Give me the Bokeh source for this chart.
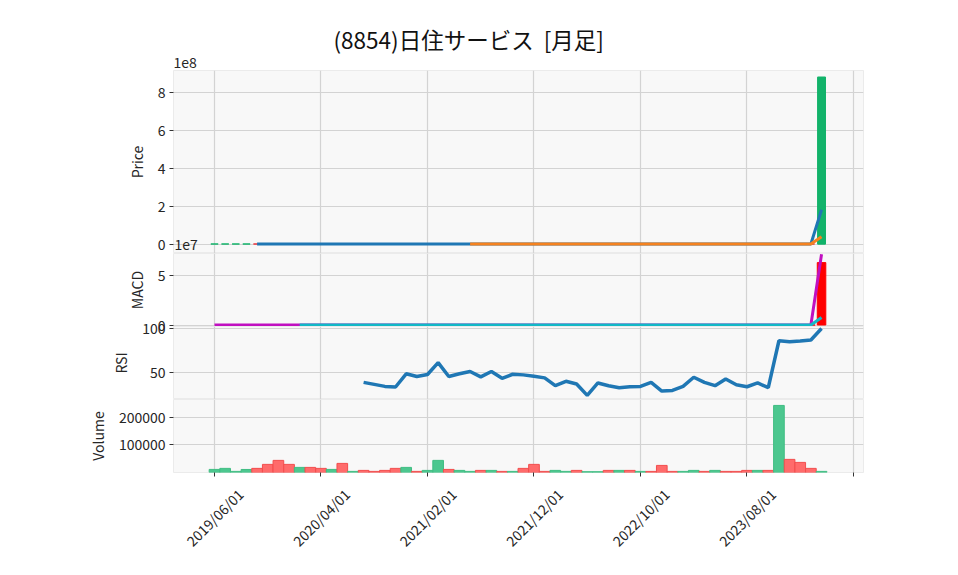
import math
from bokeh.plotting import figure
from bokeh.layouts import column
from bokeh.models import Range1d, FixedTicker, Label, ColumnDataSource, Title, LinearAxis
from bokeh.embed import file_html
from bokeh.resources import INLINE

# ---------------- data ----------------
title_text = "(8854)日住サービス \u00a0[月足]"
tick_positions = [0, 10, 20, 30, 40, 50, 60]
tick_labels = ["2019/06/01", "2020/04/01", "2021/02/01", "2021/12/01",
               "2022/10/01", "2023/08/01", ""]

opens = [600, 612, 625, 630, 641, 628, 596, 552, 530, 547,
         533, 521, 529, 494, 497, 490, 486, 480, 471, 499,
         494, 498, 541, 521, 527, 533, 519, 531, 515, 524,
         519, 510, 490, 494, 501, 465, 468, 482, 470, 473,
         472, 474, 473, 455, 454, 462, 480, 470, 476, 474,
         470, 466, 472, 462, 640, 636, 632, 630]
closes = [612, 625, 630, 641, 628, 596, 552, 530, 547, 533,
          521, 529, 494, 497, 490, 486, 480, 471, 499, 494,
          498, 541, 521, 527, 533, 519, 531, 515, 524, 519,
          510, 506, 494, 501, 493, 468, 482, 476, 473, 472,
          474, 473, 455, 454, 462, 480, 470, 476, 474, 470,
          466, 472, 462, 640, 636, 632, 630, 881000000]

ma5 = [None, None, None, None, 627, 623, 609, 585, 571, 552,
       537, 532, 525, 514, 506, 495, 491, 485, 485, 488,
       492, 501, 509, 516, 529, 528, 527, 525, 524, 522,
       520, 515, 509, 504, 501, 492, 488, 484, 479, 474,
       475, 473, 469, 465, 464, 465, 464, 468, 472, 474,
       471, 472, 469, 502, 537, 570, 600, 181000000]
ma25 = [None] * 24 + [535, 531, 528, 524, 519, 516, 514, 513, 511, 510,
                      509, 507, 506, 505, 504, 503, 502, 500, 498, 496,
                      494, 493, 491, 490, 488, 485, 484, 482, 480, 485,
                      490, 495, 500, 38000000]

macd = [0, 1, 2, 3, 1, -2, -7, -12, -14, -16,
        -18, -18, -21, -22, -23, -24, -25, -23, -22, -17,
        -14, -8, -5, -2, 0, 1, 2, 1, 1, 0,
        -1, -2, -3, -4, -4, -6, -7, -7, -8, -9,
        -9, -9, -10, -11, -11, -10, -10, -9, -8, -8,
        -8, -7, -7, 6, 16, 23, 28, 71500000]
signal = [None] * 8 + [-5, -7,
          -9, -11, -13, -15, -16, -18, -19, -20, -20, -20,
          -19, -17, -14, -12, -10, -8, -6, -4, -3, -2,
          -2, -2, -2, -3, -3, -4, -4, -5, -6, -6,
          -7, -7, -8, -9, -9, -9, -9, -9, -9, -9,
          -8, -8, -8, -5, -1, 4, 8, 7500000]
hist = [None] * 8 + [-9, -9,
        -9, -7, -8, -7, -7, -6, -6, -3, -2, 3,
        5, 9, 9, 10, 10, 9, 8, 5, 4, 2,
        1, 0, -1, -1, -1, -2, -3, -2, -2, -3,
        -2, -2, -2, -2, -2, -1, -2, 0, 1, 1,
        0, 1, 1, 11, 17, 19, 20, 63000000]

rsi = [None] * 14 + [38.8, 36.5, 34.2, 33.5, 48.5, 45.4,
       47.7, 61.2, 45.4, 48.5, 51.2, 45.0, 51.2, 43.4, 48.0, 47.3,
       45.7, 43.9, 35.0, 40.0, 37.0, 24.0, 38.1, 35.0, 32.7, 33.8,
       34.2, 38.8, 28.9, 29.6, 34.2, 44.6, 38.8, 35.0, 42.7, 36.1,
       33.8, 38.1, 32.7, 86.1, 85.0, 85.8, 87.0, 100.0]

volume = [11200, 14900, 4000, 11000, 15000, 29400, 43900, 29400, 18500, 18500,
          14900, 11200, 33000, 4000, 7600, 4000, 7600, 14900, 18500, 4000,
          7600, 43900, 11200, 7600, 4000, 7600, 7600, 4000, 4000, 14900,
          29400, 4000, 7600, 4000, 7600, 3000, 3000, 7600, 7600, 7600,
          4000, 4000, 25700, 4000, 4000, 7600, 4000, 7600, 4000, 4000,
          7600, 7600, 7600, 243000, 47500, 36600, 14900, 4000]

# ---------------- styling ----------------
FONT = "Noto Sans CJK JP"
FS = "14px"
W = 900
LEFT = 173
FRAME_W = 690
RIGHT = W - LEFT - FRAME_W
X0, X1 = -3.85, 60.94
nan = float("nan")


def clean(vals):
    return [nan if v is None else v for v in vals]


idx = list(range(len(closes)))
x_range = Range1d(X0, X1)


def style_axis(ax):
    ax.axis_line_color = None
    ax.major_tick_in = 0
    ax.major_tick_out = 4
    ax.major_tick_line_color = "#333333"
    ax.minor_tick_line_color = None
    ax.major_label_text_font = FONT
    ax.major_label_text_font_size = FS
    ax.major_label_text_color = "#262626"
    ax.axis_label_text_font = FONT
    ax.axis_label_text_font_size = FS
    ax.axis_label_text_font_style = "normal"
    ax.axis_label_text_color = "#262626"
    ax.axis_label_standoff = 8
    ax.major_label_standoff = 4


def make(height, y_range, top=0, bottom=0, show_x=False):
    p = figure(width=W, height=height, x_range=x_range, y_range=y_range,
               output_backend="svg", toolbar_location=None,
               min_border_left=LEFT, min_border_right=RIGHT,
               min_border_top=top, min_border_bottom=bottom)
    p.background_fill_color = "#f8f8f8"
    p.border_fill_alpha = 0
    p.outline_line_color = "#ebebeb"
    p.xaxis.ticker = FixedTicker(ticks=tick_positions)
    p.xgrid.grid_line_color = "#d3d3d3"
    p.ygrid.grid_line_color = "#d3d3d3"
    p.xgrid.grid_line_width = 1.2
    p.ygrid.grid_line_width = 1.2
    style_axis(p.xaxis[0])
    style_axis(p.yaxis[0])
    p.xaxis.visible = show_x
    return p


# ---- price panel ----
p1 = make(253, Range1d(-0.5e8, 9.16e8), top=70)
p1.add_layout(Title(text="1e8", align="left", offset=0, text_font=FONT,
                    text_font_size=FS, text_font_style="normal",
                    text_color="#262626", standoff=5), "above")
p1.add_layout(Title(text=title_text, align="left", offset=160, text_font=FONT,
                    text_font_size="22.5px", text_font_style="normal",
                    text_color="#111111", standoff=-5), "above")
p1.yaxis.axis_label = "Price"
p1.yaxis.ticker = FixedTicker(ticks=[0, 200000000, 400000000, 600000000, 800000000])
p1.yaxis.major_label_overrides = {0: "0", 200000000: "2", 400000000: "4",
                                  600000000: "6", 800000000: "8"}

up_col = "#12b36a"
dn_col = "#e8343c"
cs = ColumnDataSource(dict(
    x=idx,
    top=[max(o, c) for o, c in zip(opens, closes)],
    bottom=[min(o, c) for o, c in zip(opens, closes)],
    color=[up_col if c >= o else dn_col for o, c in zip(opens, closes)],
))
p1.vbar(x="x", top="top", bottom="bottom", width=0.7, source=cs,
        fill_color="color", line_color="color", line_width=1.5)
p1.line(idx, clean(ma5), line_color="#1f77b4", line_width=3)
p1.line(idx, clean(ma25), line_color="#f5821f", line_width=3)
p1.add_layout(Label(x=X0, y=-0.29e8, text="1e7", text_font=FONT,
                    text_font_size=FS, text_color="#262626",
                    text_align="left", text_baseline="bottom", x_offset=1))

# ---- MACD panel (transparent bottom border so its "0" label is not cut) ----
p2 = make(73 + 12, Range1d(-0.15e7, 7.22e7), bottom=12)
p2.yaxis.axis_label = "MACD"
p2.yaxis.ticker = FixedTicker(ticks=[0, 50000000])
p2.yaxis.major_label_overrides = {0: "0", 50000000: "5"}
p2.vbar(x=idx, top=clean(hist), bottom=0, width=0.8,
        fill_color="#ff0000", line_color="#ff0000")
p2.line(idx, clean(macd), line_color="#c010c0", line_width=3)
p2.line(idx, clean(signal), line_color="#12b8c6", line_width=3)

# ---- RSI panel (overlaps the MACD bottom border) ----
p3 = make(10 + 73, Range1d(19.3, 102.3), top=10)
p3.margin = (-22, 0, 0, 0)
p3.yaxis.axis_label = "RSI"
p3.yaxis.ticker = FixedTicker(ticks=[50, 100])
p3.line(idx, clean(rsi), line_color="#1f77b4", line_width=3.5)

# ---- Volume panel ----
p4 = make(73 + 95, Range1d(0, 264500), bottom=95, show_x=True)
p4.yaxis.axis_label = "Volume"
p4.yaxis.ticker = FixedTicker(ticks=[100000, 200000])
p4.yaxis.major_label_overrides = {100000: "100000", 200000: "200000"}
p4.xaxis.major_label_overrides = {t: "" for t in tick_positions}
p4.xaxis.major_label_standoff = 0
# labels-only axis on a shifted range so rotated labels sit centred under ticks
shift = 2.45
p4.extra_x_ranges = {"labels": Range1d(X0 - shift, X1 - shift)}
lab_axis = LinearAxis(x_range_name="labels", ticker=FixedTicker(ticks=tick_positions))
style_axis(lab_axis)
lab_axis.major_tick_line_color = None
lab_axis.major_tick_out = 0
lab_axis.major_label_standoff = 15
lab_axis.major_label_orientation = math.pi / 4
lab_axis.major_label_overrides = {t: l for t, l in zip(tick_positions, tick_labels)}
p4.add_layout(lab_axis, "below")

vs = ColumnDataSource(dict(
    x=idx, top=volume,
    fill=["#4cc78f" if c >= o else "#ff6b6b" for o, c in zip(opens, closes)],
    edge=["#3fbd82" if c >= o else "#f24d4d" for o, c in zip(opens, closes)],
))
p4.vbar(x="x", top="top", bottom=0, width=1.0, source=vs,
        fill_color="fill", line_color="edge", line_width=1)

layout = column(p1, p2, p3, p4, spacing=0)
open("out.html", "w").write(file_html(layout, INLINE))
